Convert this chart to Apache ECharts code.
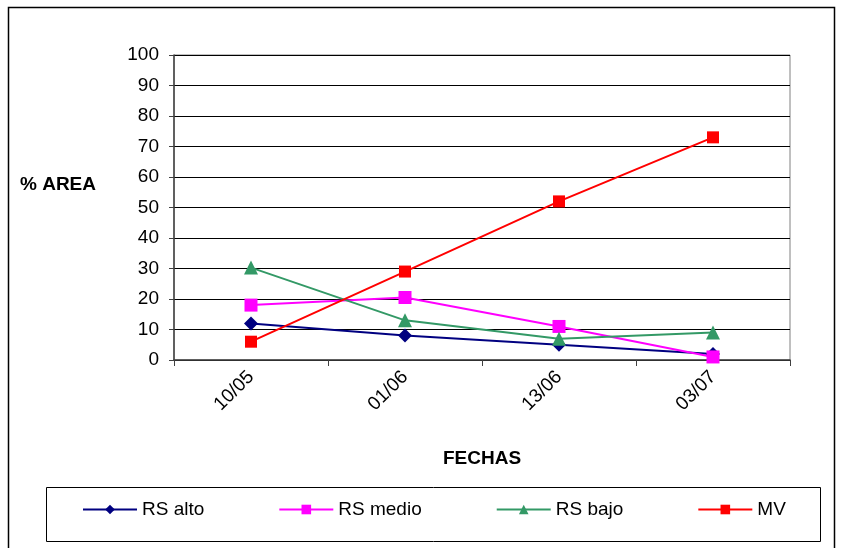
<!DOCTYPE html>
<html>
<head>
<meta charset="utf-8">
<script src="https://cdn.jsdelivr.net/npm/echarts@6/dist/echarts.min.js"></script>
<style>
  html, body { margin: 0; padding: 0; background: #fff; }
  #chart { width: 842px; height: 548px; }
</style>
</head>
<body>
<div id="chart"></div>
<script>
// Sampling dates
const fechas = ['10/05', '01/06', '13/06', '03/07'];
// % area per class
const rsAlto  = [12, 8, 5, 2];
const rsMedio = [18, 20.5, 11, 1];
const rsBajo  = [30.3, 13, 7, 9];
const mv      = [6, 29, 52, 73];
const yTicks  = [0, 10, 20, 30, 40, 50, 60, 70, 80, 90, 100];

const FONT = '"Liberation Sans", Arial, sans-serif';

function lineSeries(name, data, color, symbol, size) {
  return {
    name: name,
    type: 'line',
    data: data,
    symbol: symbol,
    symbolSize: size,
    showSymbol: true,
    lineStyle: { color: color, width: 2 },
    itemStyle: { color: color, borderWidth: 0 },
    emphasis: { disabled: true },
    animation: false
  };
}

const chart = echarts.init(document.getElementById('chart'), null, { renderer: 'canvas' });
chart.setOption({
  backgroundColor: '#fff',
  animation: false,
  textStyle: { fontFamily: FONT },
  grid: {
    left: 174, right: 52, top: 55, bottom: 188,
    show: true, borderColor: '#808080', borderWidth: 1
  },
  xAxis: {
    type: 'category',
    data: fechas,
    boundaryGap: true,
    axisLine: { lineStyle: { color: '#404040', width: 1.5 } },
    axisTick: { show: true, length: 6, lineStyle: { color: '#404040' } },
    axisLabel: { rotate: 45, color: '#000', fontSize: 19, fontFamily: FONT, margin: 14 },
    splitLine: { show: false }
  },
  yAxis: {
    type: 'value',
    min: yTicks[0],
    max: yTicks[yTicks.length - 1],
    interval: 10,
    axisLine: { show: true, lineStyle: { color: '#404040', width: 1.5 } },
    axisTick: { show: true, length: 5, lineStyle: { color: '#404040' } },
    axisLabel: { color: '#000', fontSize: 19, fontFamily: FONT, margin: 15 },
    splitLine: { show: true, lineStyle: { color: '#000', width: 1 } }
  },
  legend: {
    left: 77,
    top: 495,
    itemGap: 74,
    itemWidth: 54,
    itemHeight: 12,
    textStyle: { fontSize: 19, color: '#000', fontFamily: FONT },
    data: ['RS alto', 'RS medio', 'RS bajo', 'MV']
  },
  graphic: [
    { type: 'rect', shape: { x: 8.5, y: 7.5, width: 826, height: 560 },
      style: { fill: null, stroke: '#000', lineWidth: 1.5 }, silent: true, z: -10 },
    { type: 'rect', shape: { x: 46.5, y: 487.5, width: 774, height: 54 },
      style: { fill: null, stroke: '#000', lineWidth: 1 }, silent: true },
    { type: 'text', left: 20, top: 175,
      style: { text: '% AREA', font: 'bold 19px ' + FONT, fill: '#000' } },
    { type: 'text', left: 443, top: 449,
      style: { text: 'FECHAS', font: 'bold 19px ' + FONT, fill: '#000' } }
  ],
  series: [
    lineSeries('RS alto', rsAlto, '#000080', 'diamond', 14),
    lineSeries('RS medio', rsMedio, '#ff00ff', 'rect', 13),
    lineSeries('RS bajo', rsBajo, '#339966', 'triangle', 14),
    lineSeries('MV', mv, '#ff0000', 'rect', 12)
  ]
});
</script>
</body>
</html>
